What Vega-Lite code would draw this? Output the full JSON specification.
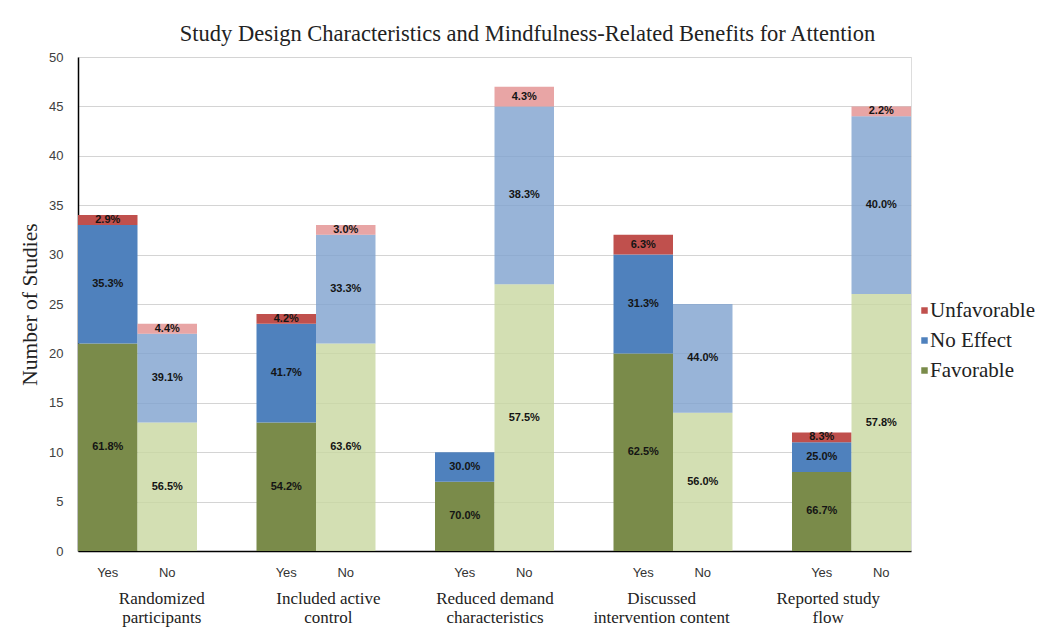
{
  "$schema": "https://vega.github.io/schema/vega-lite/v6.json",
  "autosize": "none",
  "width": 833,
  "height": 494,
  "padding": {"left": 78, "top": 57, "right": 139, "bottom": 93},
  "background": "white",
  "title": {
    "text": "Study Design Characteristics and Mindfulness-Related Benefits for Attention",
    "font": "Liberation Serif",
    "fontSize": 22.5,
    "fontWeight": "normal",
    "color": "#222222",
    "anchor": "middle",
    "dx": 33,
    "offset": 6
  },
  "datasets": {
    "bars": [
      {"key": "g1-Yes", "answer": "Yes", "outcome": "Favorable", "series": "Favorable-Yes", "rank": 1, "count": 21, "pct": "61.8%"},
      {"key": "g1-Yes", "answer": "Yes", "outcome": "No Effect", "series": "No Effect-Yes", "rank": 2, "count": 12, "pct": "35.3%"},
      {"key": "g1-Yes", "answer": "Yes", "outcome": "Unfavorable", "series": "Unfavorable-Yes", "rank": 3, "count": 1, "pct": "2.9%"},
      {"key": "g1-No", "answer": "No", "outcome": "Favorable", "series": "Favorable-No", "rank": 1, "count": 13, "pct": "56.5%"},
      {"key": "g1-No", "answer": "No", "outcome": "No Effect", "series": "No Effect-No", "rank": 2, "count": 9, "pct": "39.1%"},
      {"key": "g1-No", "answer": "No", "outcome": "Unfavorable", "series": "Unfavorable-No", "rank": 3, "count": 1, "pct": "4.4%"},
      {"key": "g2-Yes", "answer": "Yes", "outcome": "Favorable", "series": "Favorable-Yes", "rank": 1, "count": 13, "pct": "54.2%"},
      {"key": "g2-Yes", "answer": "Yes", "outcome": "No Effect", "series": "No Effect-Yes", "rank": 2, "count": 10, "pct": "41.7%"},
      {"key": "g2-Yes", "answer": "Yes", "outcome": "Unfavorable", "series": "Unfavorable-Yes", "rank": 3, "count": 1, "pct": "4.2%"},
      {"key": "g2-No", "answer": "No", "outcome": "Favorable", "series": "Favorable-No", "rank": 1, "count": 21, "pct": "63.6%"},
      {"key": "g2-No", "answer": "No", "outcome": "No Effect", "series": "No Effect-No", "rank": 2, "count": 11, "pct": "33.3%"},
      {"key": "g2-No", "answer": "No", "outcome": "Unfavorable", "series": "Unfavorable-No", "rank": 3, "count": 1, "pct": "3.0%"},
      {"key": "g3-Yes", "answer": "Yes", "outcome": "Favorable", "series": "Favorable-Yes", "rank": 1, "count": 7, "pct": "70.0%"},
      {"key": "g3-Yes", "answer": "Yes", "outcome": "No Effect", "series": "No Effect-Yes", "rank": 2, "count": 3, "pct": "30.0%"},
      {"key": "g3-No", "answer": "No", "outcome": "Favorable", "series": "Favorable-No", "rank": 1, "count": 27, "pct": "57.5%"},
      {"key": "g3-No", "answer": "No", "outcome": "No Effect", "series": "No Effect-No", "rank": 2, "count": 18, "pct": "38.3%"},
      {"key": "g3-No", "answer": "No", "outcome": "Unfavorable", "series": "Unfavorable-No", "rank": 3, "count": 2, "pct": "4.3%"},
      {"key": "g4-Yes", "answer": "Yes", "outcome": "Favorable", "series": "Favorable-Yes", "rank": 1, "count": 20, "pct": "62.5%"},
      {"key": "g4-Yes", "answer": "Yes", "outcome": "No Effect", "series": "No Effect-Yes", "rank": 2, "count": 10, "pct": "31.3%"},
      {"key": "g4-Yes", "answer": "Yes", "outcome": "Unfavorable", "series": "Unfavorable-Yes", "rank": 3, "count": 2, "pct": "6.3%"},
      {"key": "g4-No", "answer": "No", "outcome": "Favorable", "series": "Favorable-No", "rank": 1, "count": 14, "pct": "56.0%"},
      {"key": "g4-No", "answer": "No", "outcome": "No Effect", "series": "No Effect-No", "rank": 2, "count": 11, "pct": "44.0%"},
      {"key": "g5-Yes", "answer": "Yes", "outcome": "Favorable", "series": "Favorable-Yes", "rank": 1, "count": 8, "pct": "66.7%"},
      {"key": "g5-Yes", "answer": "Yes", "outcome": "No Effect", "series": "No Effect-Yes", "rank": 2, "count": 3, "pct": "25.0%"},
      {"key": "g5-Yes", "answer": "Yes", "outcome": "Unfavorable", "series": "Unfavorable-Yes", "rank": 3, "count": 1, "pct": "8.3%"},
      {"key": "g5-No", "answer": "No", "outcome": "Favorable", "series": "Favorable-No", "rank": 1, "count": 26, "pct": "57.8%"},
      {"key": "g5-No", "answer": "No", "outcome": "No Effect", "series": "No Effect-No", "rank": 2, "count": 18, "pct": "40.0%"},
      {"key": "g5-No", "answer": "No", "outcome": "Unfavorable", "series": "Unfavorable-No", "rank": 3, "count": 1, "pct": "2.2%"}
    ],
    "groups": [
      {"group": "Randomized|participants"},
      {"group": "Included active|control"},
      {"group": "Reduced demand|characteristics"},
      {"group": "Discussed|intervention content"},
      {"group": "Reported study|flow"}
    ]
  },
  "layer": [
    {
      "data": {"name": "bars"},
      "encoding": {
        "x": {
          "field": "key",
          "type": "nominal",
          "scale": {
            "domain": ["g1-Yes", "g1-No", "gap1", "g2-Yes", "g2-No", "gap2", "g3-Yes", "g3-No", "gap3", "g4-Yes", "g4-No", "gap4", "g5-Yes", "g5-No"],
            "paddingInner": 0,
            "paddingOuter": 0
          },
          "axis": {
            "orient": "bottom",
            "title": null,
            "labelExpr": "indexof(datum.value, '-') > 0 ? split(datum.value, '-')[1] : ''",
            "labelAngle": 0,
            "labelFont": "Liberation Sans",
            "labelFontSize": 13,
            "labelColor": "#333333",
            "labelPadding": 15,
            "ticks": false,
            "domainColor": "#000000",
            "domainWidth": 1.5,
            "grid": false
          }
        }
      },
      "layer": [
        {
          "mark": {"type": "bar"},
          "encoding": {
            "y": {
              "field": "count",
              "type": "quantitative",
              "stack": "zero",
              "scale": {"domain": [0, 50], "nice": false},
              "axis": {
                "title": "Number of Studies",
                "titleFont": "Liberation Serif",
                "titleFontSize": 21.5,
                "titleFontWeight": "normal",
                "titleColor": "#222222",
                "titlePadding": 7,
                "values": [0, 5, 10, 15, 20, 25, 30, 35, 40, 45, 50],
                "labelFont": "Liberation Sans",
                "labelFontSize": 13,
                "labelColor": "#404040",
                "labelPadding": 15,
                "ticks": false,
                "domainColor": "#000000",
                "domainWidth": 1.5,
                "grid": true,
                "gridColor": "#d4d4d4",
                "gridWidth": 1
              }
            },
            "order": {"field": "rank", "type": "quantitative"},
            "color": {
              "field": "series",
              "type": "nominal",
              "scale": {
                "domain": ["Unfavorable-Yes", "No Effect-Yes", "Favorable-Yes", "Unfavorable-No", "No Effect-No", "Favorable-No"],
                "range": ["#c0504d", "#4f81bd", "#7a8b4a", "#e28e8e", "#7ea1ce", "#c8d7a0"]
              },
              "legend": {
                "values": ["Unfavorable-Yes", "No Effect-Yes", "Favorable-Yes"],
                "labelExpr": "split(datum.label, '-')[0]",
                "title": null,
                "orient": "none",
                "legendX": 836,
                "legendY": 243,
                "padding": 0,
                "symbolType": "square",
                "symbolSize": 42,
                "symbolStrokeWidth": 0,
                "labelFont": "Liberation Serif",
                "labelFontSize": 21,
                "labelColor": "#222222",
                "labelOffset": -5,
                "rowPadding": 8
              }
            },
            "opacity": {
              "field": "answer",
              "type": "nominal",
              "scale": {"domain": ["Yes", "No"], "range": [1, 0.8]},
              "legend": null
            }
          }
        },
        {
          "transform": [
            {"stack": "count", "groupby": ["key"], "sort": [{"field": "rank"}], "as": ["y0", "y1"]},
            {"calculate": "(datum.y0 + datum.y1) / 2", "as": "ymid"}
          ],
          "mark": {"type": "text", "font": "Liberation Sans", "fontSize": 11, "fontWeight": "bold", "color": "#141414"},
          "encoding": {
            "y": {"field": "ymid", "type": "quantitative"},
            "text": {"field": "pct", "type": "nominal"}
          }
        }
      ]
    },
    {
      "data": {"name": "groups"},
      "mark": {"type": "text", "text": ""},
      "encoding": {
        "x": {
          "field": "group",
          "type": "nominal",
          "scale": {
            "domain": ["Randomized|participants", "Included active|control", "Reduced demand|characteristics", "Discussed|intervention content", "Reported study|flow"],
            "paddingInner": 0.3333,
            "paddingOuter": 0
          },
          "axis": {
            "orient": "bottom",
            "title": null,
            "labelExpr": "split(datum.value, '|')",
            "labelAngle": 0,
            "labelFont": "Liberation Serif",
            "labelFontSize": 17,
            "labelColor": "#222222",
            "labelLineHeight": 19,
            "labelPadding": 39,
            "ticks": false,
            "domain": false,
            "grid": false
          }
        }
      }
    }
  ],
  "resolve": {"scale": {"x": "independent"}, "axis": {"x": "independent"}}
}
